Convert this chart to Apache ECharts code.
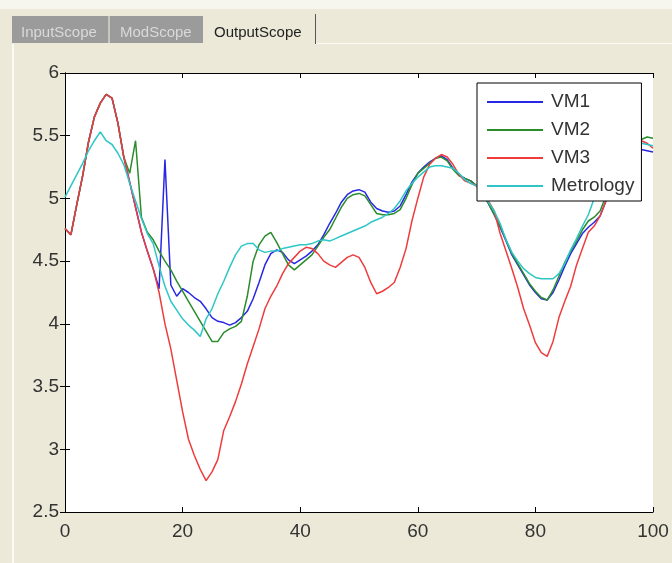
<!DOCTYPE html>
<html>
<head>
<meta charset="utf-8">
<script src="https://cdn.jsdelivr.net/npm/echarts@6/dist/echarts.min.js"></script>
<style>
html,body{margin:0;padding:0;background:#ece9d8;}
#main{width:672px;height:563px;}
</style>
</head>
<body>
<div id="main"></div>
<script>
// x positions (sample index)
var xs = [];
for (var i = 0; i <= 100; i++) xs.push(i);

// VM3 (red)
var vm3 = [4.76,4.71,4.95,5.18,5.45,5.65,5.76,5.83,5.80,5.60,
	5.33,5.13,4.93,4.73,4.58,4.44,4.25,4.00,3.80,3.55,
	3.30,3.08,2.95,2.84,2.75,2.82,2.92,3.15,3.26,3.38,
	3.52,3.68,3.82,3.96,4.12,4.22,4.30,4.40,4.48,4.53,
	4.58,4.61,4.60,4.56,4.50,4.47,4.45,4.49,4.53,4.55,
	4.53,4.45,4.33,4.24,4.26,4.29,4.33,4.45,4.60,4.82,
	5.00,5.17,5.27,5.32,5.35,5.33,5.27,5.19,5.14,5.12,
	5.10,5.06,4.98,4.90,4.72,4.58,4.44,4.29,4.12,3.99,
	3.85,3.77,3.74,3.86,4.05,4.18,4.30,4.47,4.60,4.73,
	4.78,4.86,4.98,5.10,5.22,5.32,5.40,5.45,5.46,5.44,
	5.40];

// VM2 (green)
var vm2 = [4.76,4.71,4.95,5.18,5.45,5.65,5.76,5.83,5.80,5.60,
	5.33,5.20,5.46,4.85,4.73,4.67,4.58,4.50,4.43,4.34,
	4.26,4.18,4.10,4.02,3.94,3.86,3.86,3.93,3.96,3.98,
	4.02,4.22,4.50,4.63,4.70,4.73,4.65,4.56,4.47,4.43,
	4.47,4.51,4.55,4.62,4.69,4.75,4.84,4.93,5.00,5.03,
	5.04,5.02,4.95,4.88,4.87,4.87,4.88,4.91,5.00,5.11,
	5.20,5.24,5.28,5.32,5.33,5.30,5.23,5.18,5.16,5.14,
	5.10,5.04,4.96,4.87,4.78,4.67,4.56,4.48,4.40,4.32,
	4.26,4.21,4.19,4.27,4.38,4.49,4.58,4.66,4.75,4.82,
	4.85,4.90,5.02,5.14,5.24,5.32,5.38,5.43,5.47,5.49,
	5.48];

// VM1 (blue)
var vm1 = [4.76,4.71,4.95,5.18,5.45,5.65,5.76,5.83,5.80,5.60,
	5.33,5.13,4.93,4.73,4.58,4.44,4.28,5.31,4.31,4.22,
	4.28,4.25,4.21,4.18,4.12,4.05,4.02,4.01,3.99,4.01,
	4.05,4.10,4.20,4.33,4.47,4.56,4.59,4.57,4.51,4.48,
	4.51,4.54,4.58,4.63,4.71,4.80,4.88,4.97,5.03,5.06,
	5.07,5.05,4.97,4.92,4.90,4.89,4.90,4.94,5.03,5.13,
	5.20,5.25,5.29,5.32,5.34,5.31,5.24,5.19,5.16,5.14,
	5.10,5.04,4.96,4.87,4.77,4.66,4.55,4.47,4.39,4.31,
	4.25,4.20,4.19,4.25,4.35,4.46,4.56,4.64,4.72,4.77,
	4.81,4.86,4.98,5.10,5.20,5.28,5.33,5.37,5.39,5.38,
	5.37];

// Metrology (cyan)
var metrology = [5.01,5.10,5.19,5.28,5.38,5.46,5.53,5.46,5.43,5.36,
	5.27,5.12,4.98,4.84,4.72,4.64,4.46,4.30,4.18,4.11,
	4.04,3.99,3.95,3.90,4.04,4.12,4.24,4.34,4.45,4.55,
	4.62,4.64,4.64,4.59,4.57,4.58,4.58,4.60,4.61,4.62,
	4.63,4.63,4.64,4.66,4.67,4.66,4.68,4.70,4.72,4.74,
	4.76,4.78,4.81,4.83,4.85,4.88,4.92,4.98,5.06,5.12,
	5.17,5.21,5.25,5.26,5.26,5.25,5.24,5.20,5.15,5.12,
	5.10,5.04,4.97,4.90,4.80,4.67,4.57,4.50,4.44,4.40,
	4.37,4.36,4.36,4.36,4.40,4.48,4.59,4.68,4.78,4.87,
	5.00,5.10,5.18,5.26,5.32,5.37,5.41,5.44,5.44,5.43,
	5.42];

var seriesNames = ['VM1', 'VM2', 'VM3', 'Metrology'];
var seriesColors = ['#2727e6', '#2b8c2b', '#ee3c3c', '#2ec6c6'];
var seriesValues = [vm1, vm2, vm3, metrology];

function pairs(vals) {
	var out = [];
	for (var i = 0; i < xs.length; i++) out.push([xs[i], vals[i]]);
	return out;
}

var myChart = echarts.init(document.getElementById('main'));

var series = [];
for (var k = 0; k < seriesNames.length; k++) {
	series.push({
		name: seriesNames[k],
		type: 'line',
		data: pairs(seriesValues[k]),
		showSymbol: false,
		symbol: 'none',
		lineStyle: {color: seriesColors[k], width: 1.5},
		itemStyle: {color: seriesColors[k]},
		animation: false
	});
}

var fontFam = 'Liberation Sans, Arial, sans-serif';
var labelFont = {color: '#333', fontSize: 19, fontFamily: fontFam};
var tick = {show: true, inside: true, length: 5, lineStyle: {color: '#000'}};
var line = {show: true, lineStyle: {color: '#000', width: 1}};
var tabFont = '15px ' + fontFam;

var option = {
	backgroundColor: '#ece9d8',
	animation: false,
	graphic: [
		// top strip
		{type: 'rect', shape: {x: 0, y: 0, width: 672, height: 9}, style: {fill: '#f6f5ee'}},
		// panel edges
		{type: 'rect', shape: {x: 12, y: 44, width: 2, height: 519}, style: {fill: '#fbfaf5'}},
		{type: 'rect', shape: {x: 315, y: 43, width: 357, height: 1}, style: {fill: '#fbfaf5'}},
		// tabs
		{type: 'rect', shape: {x: 12, y: 16, width: 96, height: 27}, style: {fill: '#9b9b9b'}},
		{type: 'text', left: 21, top: 25, style: {text: 'InputScope', fill: '#d9d9d9', font: tabFont}},
		{type: 'rect', shape: {x: 110, y: 16, width: 93, height: 27}, style: {fill: '#9b9b9b'}},
		{type: 'rect', shape: {x: 108, y: 16, width: 2, height: 27}, style: {fill: '#c9c7bd'}},
		{type: 'text', left: 120, top: 25, style: {text: 'ModScope', fill: '#d9d9d9', font: tabFont}},
		{type: 'rect', shape: {x: 205, y: 14, width: 110, height: 30}, style: {fill: '#ece9d8'}},
		{type: 'rect', shape: {x: 315, y: 14, width: 1, height: 30}, style: {fill: '#555'}},
		{type: 'text', left: 214, top: 25, style: {text: 'OutputScope', fill: '#222', font: tabFont}}
	],
	grid: {
		left: 65, right: 19, top: 73, bottom: 51,
		show: true, backgroundColor: '#fff', borderWidth: 0
	},
	legend: {
		data: seriesNames,
		orient: 'vertical',
		left: 477,
		top: 83,
		icon: 'rect',
		itemWidth: 56,
		itemHeight: 2,
		itemGap: 8,
		padding: [9, 7, 5, 10],
		backgroundColor: '#fff',
		borderColor: '#000',
		borderWidth: 1,
		borderRadius: 0,
		selectedMode: false,
		textStyle: {color: '#333', fontSize: 19, lineHeight: 20, padding: [0, 0, 0, 3], fontFamily: fontFam}
	},
	xAxis: [{
		type: 'value', min: 0, max: 100, interval: 20, position: 'bottom',
		axisLine: line, axisTick: tick, splitLine: {show: false},
		axisLabel: Object.assign({margin: 10}, labelFont)
	}, {
		type: 'value', min: 0, max: 100, interval: 20, position: 'top',
		axisLine: line, axisTick: tick, splitLine: {show: false},
		axisLabel: {show: false}
	}],
	yAxis: [{
		type: 'value', min: 2.5, max: 6, interval: 0.5, position: 'left',
		axisLine: line, axisTick: tick, splitLine: {show: false},
		axisLabel: Object.assign({margin: 6}, labelFont)
	}, {
		type: 'value', min: 2.5, max: 6, interval: 0.5, position: 'right',
		axisLine: line, axisTick: tick, splitLine: {show: false},
		axisLabel: {show: false}
	}],
	series: series
};
myChart.setOption(option);
</script>
</body>
</html>
